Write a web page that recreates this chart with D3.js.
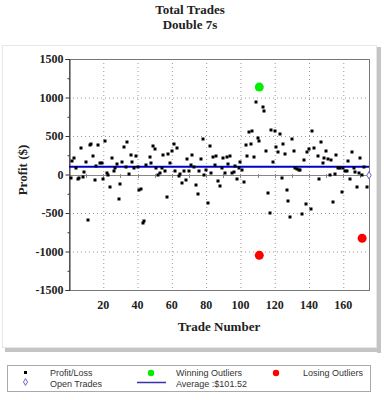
<!DOCTYPE html>
<html>
<head>
<meta charset="utf-8">
<script src="https://cdn.jsdelivr.net/npm/d3@7"></script>
<style>
  body { margin: 0; background: #fff; }
  #chart svg { display: block; }
</style>
</head>
<body>
<div id="chart"></div>
<script>
// trade number / profit pairs
const tradeNumbers = [
  1, 2, 3, 4, 5, 6, 7, 8, 9, 10, 11, 12, 13, 14, 15, 16, 17, 18, 19, 20,
  21, 22, 23, 24, 25, 26, 27, 28, 29, 30, 31, 32, 33, 34, 35, 36, 37, 38, 39, 40,
  41, 42, 43, 44, 45, 47, 48, 49, 50, 51, 52, 53, 54, 55, 56, 57, 58, 59, 60,
  61, 62, 63, 64, 65, 66, 67, 68, 69, 70, 71, 72, 73, 74, 75, 76, 77, 78, 79, 80,
  81, 82, 83, 84, 85, 86, 87, 88, 89, 90, 91, 92, 93, 94, 95, 96, 97, 98, 99, 100,
  101, 102, 103, 104, 105, 106, 107, 108, 109, 110, 111, 113, 114, 115, 116, 117, 118, 119, 120,
  121, 122, 123, 124, 125, 126, 127, 128, 129, 130, 131, 132, 133, 134, 135, 136, 137, 138, 139, 140,
  141, 142, 143, 145, 146, 147, 148, 149, 150, 151, 152, 153, 154, 155, 156, 157, 158, 159, 160,
  161, 162, 163, 164, 165, 166, 167, 168, 169, 170, 171, 172, 174
];
const profits = [
  -50, 170, 220, 80, -62, -50, 348, -32, 36, 166, -590, 383, 396, 244, -67, 110, 387, 149, 145, -58,
  439, 23, -6, -158, 218, 42, 88, 131, -318, -127, 162, 361, 100, 418, 5, 257, 162, 85, 244, 97,
  -201, -184, -630, -600, 119, 223, 153, 366, 331, 88, -6, 19, 81, 253, 42, -296, 270, 153, 301,
  400, 42, 348, -15, 6, -110, 42, -75, 205, 42, 127, 253, 97, -136, -257, 42, 197, 457, -6, 62,
  -374, 366, 19, 227, 123, 244, -80, -145, 81, 214, 15, 227, 132, 236, 19, 28, 114, -58, 88, 166,
  59, -101, 379, 236, 548, 392, 565, 223, 942, 478, 440, 880, 825, 310, -236, -496, 582, 166, 560,
  357, 296, 528, -49, 400, 264, -205, -348, -556, 459, 305, 88, 70, 57, 58, -513, 184, -387, 296, 331,
  -452, 559, 344, 236, -58, 418, 153, 218, 309, 197, -10, 184, -361, 6, 253, 88, 88, -231, 88,
  42, 46, 171, -62, 296, 88, 37, -158, 19, 218, -6, 92, -162
];

const winningTrades = [111];
const winningProfits = [1135];
const losingTrades = [111, 171];
const losingProfits = [-1050, -828];
const openTrades = [175];
const openProfits = [-10];
const averageProfit = 101.52;

const yMajorTicks = [-1500, -1000, -500, 0, 500, 1000, 1500];
const yMinorTicks = [-1250, -750, -250, 250, 750, 1250];
const xLabelTicks = [20, 40, 60, 80, 100, 120, 140, 160];
const xZeroTicks = d3.range(10, 175, 10);

let svg, xScale, yScale;

function createChart() {
  const width = 384, height = 400;
  const plot = { left: 69, right: 369, top: 59, bottom: 290 };

  svg = d3.select("#chart").append("svg")
      .attr("width", width)
      .attr("height", height);

  // chart panel with the grey shadow
  svg.append("rect").attr("x", 377).attr("y", 47).attr("width", 4).attr("height", 306)
      .attr("fill", "#c4c4c4");
  svg.append("rect").attr("x", 5).attr("y", 348).attr("width", 376).attr("height", 4)
      .attr("fill", "#c4c4c4");
  svg.append("rect").attr("x", 2.5).attr("y", 45.5).attr("width", 374).attr("height", 302)
      .attr("fill", "#fff").attr("stroke", "#e6e6e6");

  xScale = d3.scaleLinear().domain([0, 175]).range([plot.left, plot.right]);
  yScale = d3.scaleLinear().domain([-1500, 1500]).range([plot.bottom, plot.top]);

  const serif = "'Liberation Serif', 'DejaVu Serif', serif";

  // titles
  svg.append("text").attr("x", 190).attr("y", 14).attr("text-anchor", "middle")
      .attr("font-family", serif).attr("font-weight", "bold").attr("font-size", 13)
      .attr("fill", "#222").text("Total Trades");
  svg.append("text").attr("x", 190).attr("y", 29).attr("text-anchor", "middle")
      .attr("font-family", serif).attr("font-weight", "bold").attr("font-size", 13)
      .attr("fill", "#222").text("Double 7s");

  // dotted grid
  const grid = svg.append("g").attr("stroke", "#999").attr("stroke-dasharray", "1,3");
  grid.selectAll("line.v").data(xLabelTicks).join("line")
      .attr("class", "v")
      .attr("x1", d => xScale(d) + 0.5).attr("x2", d => xScale(d) + 0.5)
      .attr("y1", plot.top).attr("y2", plot.bottom);
  grid.selectAll("line.h").data([-1000, -500, 500, 1000]).join("line")
      .attr("class", "h")
      .attr("x1", plot.left).attr("x2", plot.right)
      .attr("y1", d => yScale(d) + 0.5).attr("y2", d => yScale(d) + 0.5);

  // frame
  svg.append("rect")
      .attr("x", plot.left + 0.5).attr("y", plot.top + 0.5)
      .attr("width", plot.right - plot.left).attr("height", plot.bottom - plot.top)
      .attr("fill", "none").attr("stroke", "#777");

  // zero line with its ticks
  const y0 = Math.round(yScale(0)) + 0.5;
  svg.append("line").attr("x1", plot.left).attr("x2", plot.right)
      .attr("y1", y0).attr("y2", y0).attr("stroke", "#888");
  svg.append("g").selectAll("line").data(xZeroTicks).join("line")
      .attr("x1", d => Math.round(xScale(d)) + 0.5).attr("x2", d => Math.round(xScale(d)) + 0.5)
      .attr("y1", y0 - 1.5).attr("y2", y0 + 2.5).attr("stroke", "#888");

  // y axis
  const yAxis = svg.append("g")
      .attr("transform", `translate(${plot.left + 0.5},0)`)
      .call(d3.axisLeft(yScale).tickValues(yMajorTicks).tickSize(4).tickPadding(2)
        .tickFormat(d => String(d)));
  yAxis.select(".domain").attr("stroke", "#333");
  yAxis.selectAll(".tick line").attr("stroke", "#333");
  yAxis.selectAll("text")
      .attr("font-family", serif).attr("font-weight", "bold").attr("font-size", 12)
      .attr("fill", "#222");
  svg.append("g")
      .attr("transform", `translate(${plot.left + 0.5},0)`)
      .call(d3.axisLeft(yScale).tickValues(yMinorTicks).tickSize(2).tickFormat(""))
      .call(g => g.select(".domain").remove())
      .selectAll("line").attr("stroke", "#333");

  // x tick labels
  svg.append("g").selectAll("text").data(xLabelTicks).join("text")
      .attr("x", d => xScale(d)).attr("y", 309)
      .attr("text-anchor", "middle")
      .attr("font-family", serif).attr("font-weight", "bold").attr("font-size", 12)
      .attr("fill", "#222").text(d => d);

  // axis titles
  svg.append("text").attr("x", (plot.left + plot.right) / 2).attr("y", 331)
      .attr("text-anchor", "middle")
      .attr("font-family", serif).attr("font-weight", "bold").attr("font-size", 13)
      .attr("fill", "#222").text("Trade Number");
  svg.append("text")
      .attr("transform", `translate(27,170) rotate(-90)`)
      .attr("text-anchor", "middle")
      .attr("font-family", serif).attr("font-weight", "bold").attr("font-size", 13)
      .attr("fill", "#222").text("Profit ($)");

  // average line
  svg.append("line")
      .attr("x1", plot.left).attr("x2", plot.right)
      .attr("y1", yScale(averageProfit)).attr("y2", yScale(averageProfit))
      .attr("stroke", "#0000cc").attr("stroke-width", 2);

  // profit / loss squares
  const pts = tradeNumbers.map((t, i) => ({ trade: t, profit: profits[i] }));
  svg.append("g").selectAll("rect").data(pts).join("rect")
      .attr("x", d => Math.round(xScale(d.trade)) - 1.5)
      .attr("y", d => Math.round(yScale(d.profit)) - 1.5)
      .attr("width", 3).attr("height", 3)
      .attr("fill", "#000");

  // outliers
  svg.append("g").selectAll("circle").data(winningTrades.map((t, i) => [t, winningProfits[i]]))
      .join("circle")
      .attr("cx", d => xScale(d[0])).attr("cy", d => yScale(d[1])).attr("r", 4.5)
      .attr("fill", "#00ee00");
  svg.append("g").selectAll("circle").data(losingTrades.map((t, i) => [t, losingProfits[i]]))
      .join("circle")
      .attr("cx", d => xScale(d[0])).attr("cy", d => yScale(d[1])).attr("r", 4.5)
      .attr("fill", "#ff0000");

  // open trades
  svg.append("g").selectAll("path").data(openTrades.map((t, i) => [t, openProfits[i]]))
      .join("path")
      .attr("d", d3.symbol(d3.symbolDiamond, 16))
      .attr("transform", d => `translate(${xScale(d[0])},${yScale(d[1])})`)
      .attr("fill", "#fff").attr("stroke", "#6666cc");

  drawLegend();
}

function drawLegend() {
  const sans = "'Liberation Sans', Arial, sans-serif";
  const lg = svg.append("g");
  lg.append("rect").attr("x", 7.5).attr("y", 365.5).attr("width", 363).attr("height", 26)
      .attr("fill", "#fff").attr("stroke", "#aaa");

  lg.append("rect").attr("x", 24).attr("y", 371).attr("width", 3).attr("height", 3).attr("fill", "#000");
  lg.append("path").attr("d", d3.symbol(d3.symbolDiamond, 14))
      .attr("transform", "translate(25.5,382)")
      .attr("fill", "#fff").attr("stroke", "#6666cc");
  lg.append("circle").attr("cx", 151).attr("cy", 373).attr("r", 3.2).attr("fill", "#00ee00");
  lg.append("line").attr("x1", 137).attr("x2", 166).attr("y1", 382.5).attr("y2", 382.5)
      .attr("stroke", "#3333aa").attr("stroke-width", 1.5);
  lg.append("circle").attr("cx", 276).attr("cy", 373).attr("r", 3.2).attr("fill", "#ff0000");

  const items = [
    { x: 50, y: 376, label: "Profit/Loss" },
    { x: 50, y: 386.5, label: "Open Trades" },
    { x: 176, y: 376, label: "Winning Outliers" },
    { x: 176, y: 386.5, label: "Average :$101.52" },
    { x: 303, y: 376, label: "Losing Outliers" }
  ];
  lg.selectAll("text.lbl").data(items).join("text")
      .attr("class", "lbl")
      .attr("x", d => d.x).attr("y", d => d.y)
      .attr("font-family", sans).attr("font-size", 9)
      .attr("fill", "#333").text(d => d.label);
}

document.addEventListener("DOMContentLoaded", createChart);
</script>
</body>
</html>
